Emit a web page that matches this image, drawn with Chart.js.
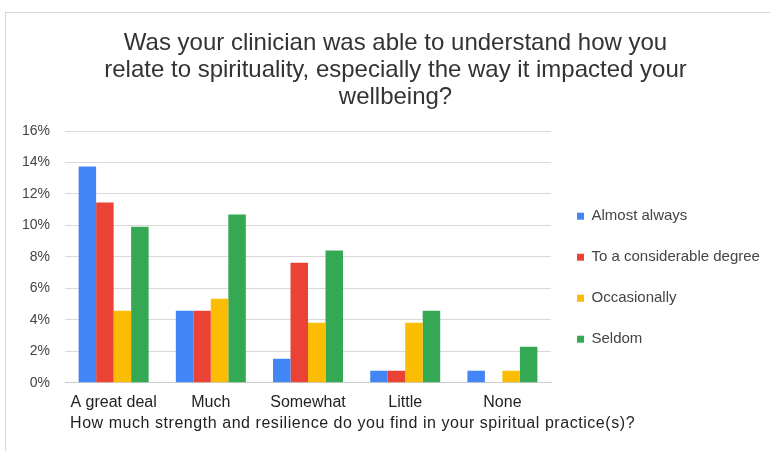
<!DOCTYPE html>
<html>
<head>
<meta charset="utf-8">
<script src="https://cdn.jsdelivr.net/npm/chart.js@4"></script>
<style>
  html, body { margin: 0; padding: 0; background: #fff; }
  #frame {
    position: absolute; left: 5px; top: 12px; width: 780px; height: 440px;
    border: 1px solid #d6d6d6; box-sizing: border-box; background: #fff;
  }
  #wrap { position: absolute; left: 6px; top: 13px; width: 764px; height: 436px; }
</style>
</head>
<body>
<div id="frame"></div>
<div id="wrap"><canvas id="myChart"></canvas></div>
<script>
// categorias y valores (%)
const categorias = ['A great deal', 'Much', 'Somewhat', 'Little', 'None'];
const series = ['Almost always', 'To a considerable degree', 'Occasionally', 'Seldom'];
const almostAlways = [13.74, 4.58, 1.53, 0.76, 0.76];
const considerable = [11.45, 4.58, 7.63, 0.76, 0];
const occasionally = [4.58, 5.34, 3.82, 3.82, 0.76];
const seldom = [9.92, 10.69, 8.40, 4.58, 2.29];
const colores = ['#4285f4', '#ea4335', '#fbbc04', '#34a853'];
const tituloX = 'How much strength and resilience do you find in your spiritual practice(s)?';

const valores = [almostAlways, considerable, occasionally, seldom];
const fuente = 'Liberation Sans, Arial';

// la leyenda de la derecha necesita mas ancho que el limite por defecto
const anchoLeyenda = {
  id: 'anchoLeyenda',
  beforeLayout(chart) {
    const lg = chart.legend;
    if (lg && !lg._parcheado) {
      const fitOrig = lg.fit.bind(lg);
      lg.fit = function() { fitOrig(); this.width = 213; };
      lg._parcheado = true;
    }
  }
};

// titulo del eje x dibujado a mano (sin comprimir al ancho del area)
const tituloEjeX = {
  id: 'tituloEjeX',
  afterDraw(chart) {
    const c = chart.ctx;
    c.save();
    c.font = '16px ' + fuente;
    c.fillStyle = '#222';
    c.textBaseline = 'middle';
    c.textAlign = 'left';
    if ('letterSpacing' in c) c.letterSpacing = '0.55px';
    c.fillText(tituloX, chart.chartArea.left + 5, chart.chartArea.bottom + 41);
    c.restore();
  }
};

const ctx = document.getElementById('myChart').getContext('2d');
window.chart = new Chart(ctx, {
  type: 'bar',
  data: {
    labels: categorias,
    datasets: series.map((s, i) => ({
      label: s,
      data: valores[i],
      backgroundColor: colores[i],
      borderWidth: 0,
      barPercentage: 1,
      categoryPercentage: 0.72
    }))
  },
  plugins: [anchoLeyenda, tituloEjeX],
  options: {
    responsive: true,
    maintainAspectRatio: false,
    animation: false,
    layout: { padding: { left: 1, right: 6, top: 15, bottom: 35 } },
    plugins: {
      title: {
        display: true,
        text: ['   Was your clinician was able to understand how you',
               '   relate to spirituality, especially the way it impacted your',
               '   wellbeing?'],
        color: '#333',
        font: { family: fuente, size: 24, weight: 'normal', lineHeight: 1.125 },
        padding: { top: 2, bottom: 20 }
      },
      legend: {
        position: 'right',
        // titulo vacio solo para bajar la leyenda
        title: { display: true, text: ' ', padding: { top: 99, bottom: 0 }, font: { size: 12 } },
        labels: {
          boxWidth: 7, boxHeight: 7, padding: 26,
          color: '#444',
          font: { family: fuente, size: 15 }
        }
      },
      tooltip: { enabled: false }
    },
    scales: {
      x: {
        grid: { display: false },
        border: { color: '#ccc' },
        ticks: { color: '#222', padding: 2, font: { family: fuente, size: 16 } }
      },
      y: {
        min: 0, max: 16,
        ticks: {
          stepSize: 2,
          color: '#444',
          font: { family: fuente, size: 14 },
          callback: v => v + '%',
          padding: 15
        },
        grid: { color: '#d9d9d9', drawTicks: false },
        border: { display: false }
      }
    }
  }
});
</script>
</body>
</html>
